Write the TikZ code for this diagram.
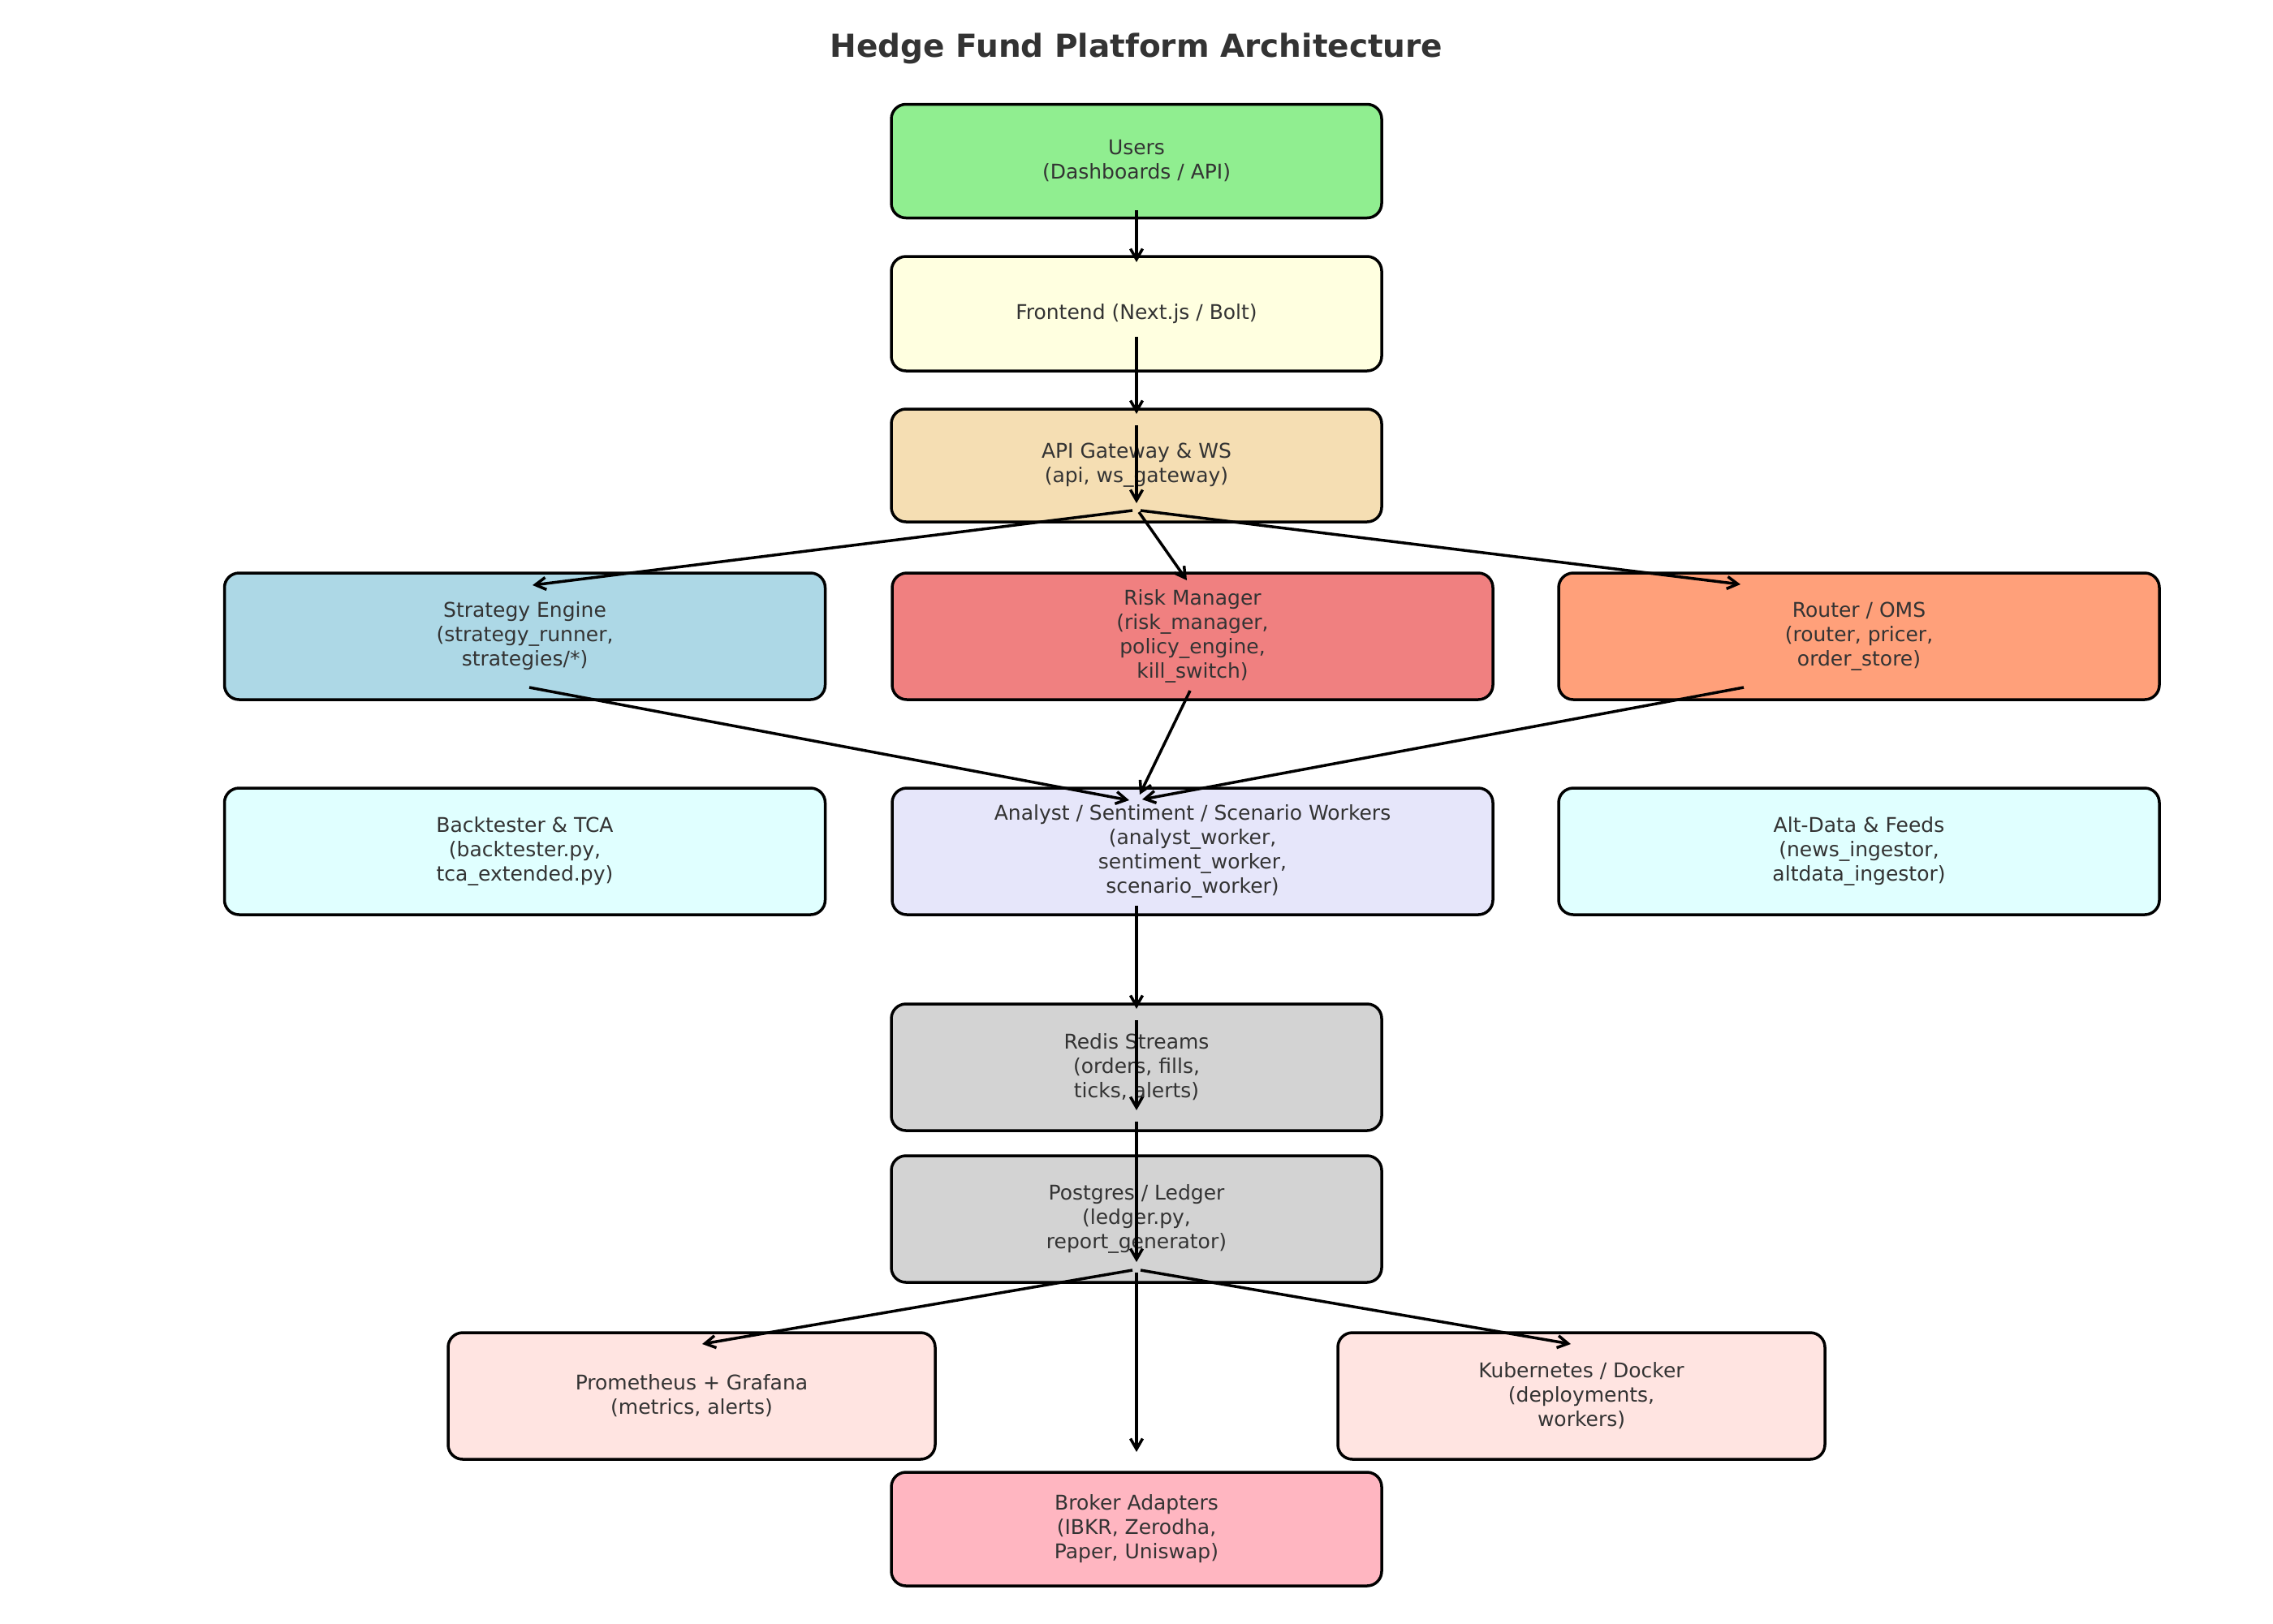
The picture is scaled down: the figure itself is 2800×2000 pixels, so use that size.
\documentclass[tikz,border=0pt]{standalone}
\usepackage{fontspec}
\setmainfont{DejaVu Sans}
\usetikzlibrary{arrows.meta,calc}
\definecolor{txt}{HTML}{333333}
\definecolor{cUsers}{HTML}{90EE90}
\definecolor{cFront}{HTML}{FFFFE0}
\definecolor{cApi}{HTML}{F5DEB3}
\definecolor{cStrat}{HTML}{ADD8E6}
\definecolor{cRisk}{HTML}{F08080}
\definecolor{cRouter}{HTML}{FFA07A}
\definecolor{cCyan}{HTML}{E0FFFF}
\definecolor{cLav}{HTML}{E6E6FA}
\definecolor{cGray}{HTML}{D3D3D3}
\definecolor{cMisty}{HTML}{FFE4E1}
\definecolor{cPink}{HTML}{FFB6C1}
\begin{document}
\begin{tikzpicture}[x=1pt,y=-1pt,
  box/.style={draw=black, line width=3.5pt, rounded corners=18pt, inner sep=0pt, outer sep=0pt,
    align=center, text=txt, font=\fontsize{25}{30}\selectfont},
  narrow/.style={minimum width=604pt},
  wide/.style={minimum width=740pt},
  mid/.style={minimum width=600pt},
  arr/.style={line width=3.5pt, -{Straight Barb[length=13pt,width=15pt]}}]
\fill[white] (0,0) rectangle (2800,2000);
\useasboundingbox (0,0) rectangle (2800,2000);

\node[text=txt, anchor=base, font=\bfseries\fontsize{39}{47}\selectfont] (title) at (1400,70) {Hedge Fund Platform Architecture};

\node[box, narrow, minimum height=140pt, fill=cUsers] (users) at (1400,198.5) {Users\\(Dashboards / API)};
\node[box, narrow, minimum height=141pt, fill=cFront] (frontend) at (1400,386.5) {Frontend (Next.js / Bolt)};
\node[box, narrow, minimum height=139pt, fill=cApi] (api) at (1400,573.5) {API Gateway \& WS\\(api, ws\_gateway)};

\node[box, wide, minimum height=156pt, fill=cStrat] (strategy) at (646.5,784) {Strategy Engine\\(strategy\_runner,\\strategies/*)};
\node[box, wide, minimum height=156pt, fill=cRisk] (risk) at (1469,784) {Risk Manager\\(risk\_manager,\\policy\_engine,\\kill\_switch)};
\node[box, wide, minimum height=156pt, fill=cRouter] (router) at (2290,784) {Router / OMS\\(router, pricer,\\order\_store)};

\node[box, wide, minimum height=156pt, fill=cCyan] (backtester) at (646.5,1049) {Backtester \& TCA\\(backtester.py,\\tca\_extended.py)};
\node[box, wide, minimum height=156pt, fill=cLav] (analyst) at (1469,1049) {Analyst / Sentiment / Scenario Workers\\(analyst\_worker,\\sentiment\_worker,\\scenario\_worker)};
\node[box, wide, minimum height=156pt, fill=cCyan] (altdata) at (2290,1049) {Alt-Data \& Feeds\\(news\_ingestor,\\altdata\_ingestor)};

\node[box, narrow, minimum height=156pt, fill=cGray] (redis) at (1400,1315) {Redis Streams\\(orders, fills,\\ticks, alerts)};
\node[box, narrow, minimum height=156pt, fill=cGray] (postgres) at (1400,1502) {Postgres / Ledger\\(ledger.py,\\report\_generator)};

\node[box, mid, minimum height=156pt, fill=cMisty] (prometheus) at (852,1720) {Prometheus + Grafana\\(metrics, alerts)};
\node[box, mid, minimum height=156pt, fill=cMisty] (kubernetes) at (1948,1720) {Kubernetes / Docker\\(deployments,\\workers)};
\node[box, narrow, minimum height=140pt, fill=cPink] (broker) at (1400,1884) {Broker Adapters\\(IBKR, Zerodha,\\Paper, Uniswap)};

% connectors
\draw[arr] ($(users.center)+(0,60.5)$) -- ($(frontend.center)+(0,-63.5)$);
\draw[arr] ($(frontend.center)+(0,28.5)$) -- ($(api.center)+(0,-63.5)$);
\draw[arr] ($(api.center)+(0,-49.5)$) -- ($(api.center)+(0,46.5)$);
\draw[arr] ($(api.center)+(-5,55.5)$) -- ($(strategy.center)+(9.5,-63)$);
\draw[arr] ($(api.center)+(3,57.5)$) -- ($(risk.center)+(-7,-69)$);
\draw[arr] ($(api.center)+(5,55.5)$) -- ($(router.center)+(-146,-64)$);
\draw[arr] ($(strategy.center)+(5.5,63)$) -- ($(analyst.center)+(-78,-63)$);
\draw[arr] ($(risk.center)+(-3,67)$) -- ($(analyst.center)+(-65,-70)$);
\draw[arr] ($(router.center)+(-142,63)$) -- ($(analyst.center)+(-62,-64)$);
\draw[arr] ($(analyst.center)+(-69,67)$) -- ($(redis.center)+(0,-72)$);
\draw[arr] ($(redis.center)+(0,-58)$) -- ($(redis.center)+(0,53)$);
\draw[arr] ($(redis.center)+(0,67)$) -- ($(postgres.center)+(0,53)$);
\draw[arr] ($(postgres.center)+(-5,63)$) -- ($(prometheus.center)+(13,-64)$);
\draw[arr] ($(postgres.center)+(5,63)$) -- ($(kubernetes.center)+(-13,-64)$);
\draw[arr] ($(postgres.center)+(0,66)$) -- ($(broker.center)+(0,-95)$);
\end{tikzpicture}
\end{document}
